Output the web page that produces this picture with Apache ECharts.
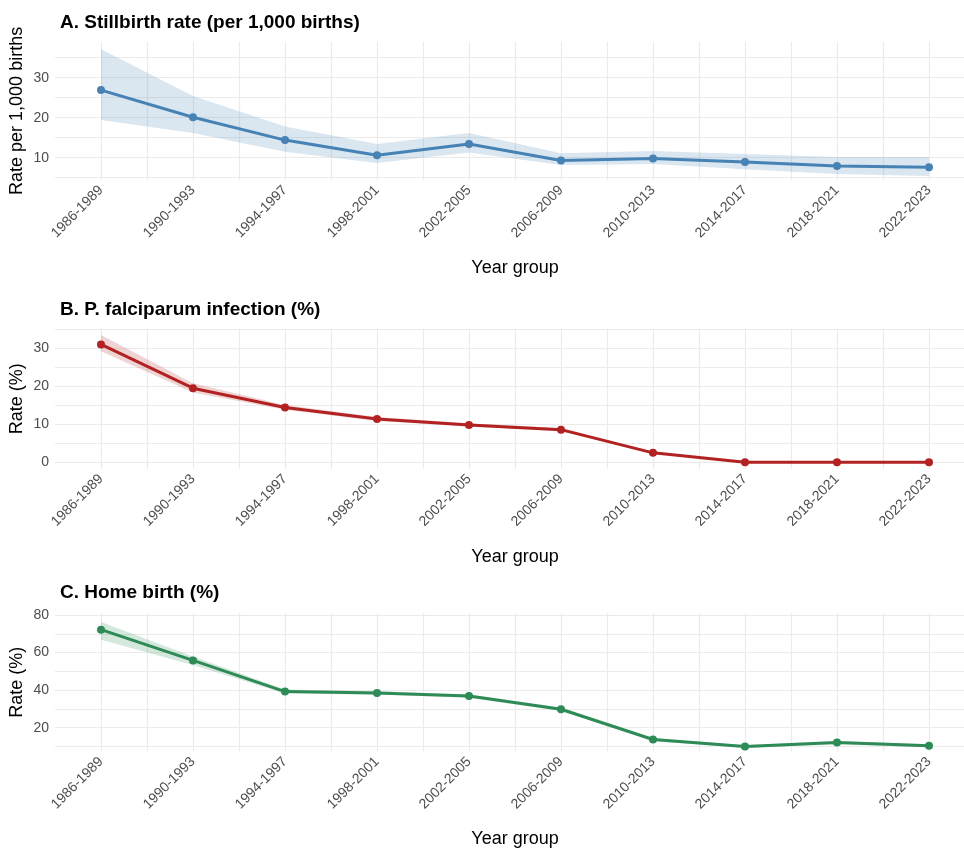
<!DOCTYPE html>
<html>
<head>
<meta charset="utf-8">
<title>Stillbirth, malaria and home birth trends</title>
<script src="https://cdn.jsdelivr.net/npm/echarts@6/dist/echarts.min.js"></script>
<style>
  html, body { margin: 0; padding: 0; background: #fff; }
  #chart { width: 964px; height: 850px; }
</style>
</head>
<body>
<div id="chart"></div>
<script>
var yearGroups = ['1986-1989', '1990-1993', '1994-1997', '1998-2001', '2002-2005',
                  '2006-2009', '2010-2013', '2014-2017', '2018-2021', '2022-2023'];

// A. stillbirth rate per 1,000 births (estimate, lower, upper)
var stillRate  = [26.9, 20.1, 14.4, 10.6, 13.4, 9.3, 9.8, 8.9, 7.9, 7.6];
var stillLower = [19.4, 16.2, 11.5, 8.7, 11.3, 8.2, 8.4, 7.1, 5.9, 5.4];
var stillUpper = [37.1, 25.4, 17.8, 13.4, 16.2, 11.1, 11.7, 10.9, 10.2, 10.2];

// B. P. falciparum infection (%)
var pfRate  = [31.0, 19.5, 14.4, 11.4, 9.8, 8.6, 2.5, 0.0, 0.0, 0.0];
var pfLower = [29.2, 18.4, 13.8, 10.9, 9.4, 8.2, 2.2, 0.0, 0.0, 0.0];
var pfUpper = [33.5, 20.8, 15.1, 11.9, 10.3, 9.0, 2.8, 0.1, 0.1, 0.1];

// C. Home birth (%)
var homeRate  = [72.2, 55.8, 39.2, 38.5, 36.8, 29.8, 13.7, 9.9, 12.1, 10.4];
var homeLower = [66.8, 53.4, 38.2, 37.6, 35.9, 28.9, 12.9, 9.2, 11.2, 9.6];
var homeUpper = [76.3, 57.9, 40.3, 39.4, 37.7, 30.7, 14.5, 10.6, 12.9, 11.2];

var FONT = 'Liberation Sans';
var GRID_LINE = '#ebebeb';

var panels = [
    { title: 'A. Stillbirth rate (per 1,000 births)', yName: 'Rate per 1,000 births',
      rate: stillRate, lower: stillLower, upper: stillUpper,
      color: '#4682b4', band: 'rgba(70,130,180,0.2)',
      top: 41.7, height: 138.4, min: 4.4, max: 39, step: 5, labelStep: 10, titleTop: 13 },
    { title: 'B. P. falciparum infection (%)', yName: 'Rate (%)',
      rate: pfRate, lower: pfLower, upper: pfUpper,
      color: '#b22222', band: 'rgba(178,34,34,0.2)',
      top: 328.5, height: 140.3, min: -1.7, max: 35.2, step: 5, labelStep: 10, titleTop: 300 },
    { title: 'C. Home birth (%)', yName: 'Rate (%)',
      rate: homeRate, lower: homeLower, upper: homeUpper,
      color: '#2e8b57', band: 'rgba(46,139,87,0.2)',
      top: 613.1, height: 138.4, min: 7.3, max: 81, step: 10, labelStep: 20, titleTop: 583 }
];

function pairs(arr) {
    return arr.map(function (v, i) { return [i, v]; });
}

// ribbon between lower and upper, drawn once through the axis scales
function bandRenderer(p) {
    return function (params, api) {
        if (params.dataIndex !== 0) return;
        var pts = [];
        for (var i = 0; i < p.lower.length; i++) pts.push(api.coord([i, p.lower[i]]));
        for (var j = p.upper.length - 1; j >= 0; j--) pts.push(api.coord([j, p.upper[j]]));
        return { type: 'polygon', shape: { points: pts }, style: { fill: p.band }, silent: true };
    };
}

var titles = [], grids = [], xAxes = [], yAxes = [], series = [];

panels.forEach(function (p, k) {
    titles.push({
        text: p.title, left: 60, top: p.titleTop, padding: 0,
        textStyle: { fontFamily: FONT, fontSize: 19, fontWeight: 'bold', color: '#000' }
    });
    grids.push({ left: 55, width: 920, top: p.top, height: p.height, outerBoundsMode: 'none' });
    xAxes.push({
        type: 'value', gridIndex: k, min: -0.5, max: 9.5, interval: 0.5,
        name: 'Year group', nameLocation: 'middle', nameGap: 79, nameMoveOverlap: false,
        nameTextStyle: { fontFamily: FONT, fontSize: 18, color: '#000' },
        axisLine: { show: false }, axisTick: { show: false },
        splitLine: { show: true, showMinLine: false, showMaxLine: false,
                     lineStyle: { color: GRID_LINE, width: 1.2 } },
        axisLabel: {
            rotate: 45, margin: 8, fontFamily: FONT, fontSize: 14, color: '#4d4d4d',
            hideOverlap: false, showMinLabel: false, showMaxLabel: false,
            formatter: function (v) {
                return Number.isInteger(v) ? yearGroups[v] : '';
            }
        }
    });
    yAxes.push({
        type: 'value', gridIndex: k, min: p.min, max: p.max,
        minInterval: p.step, maxInterval: p.step,
        name: p.yName, nameLocation: 'middle', nameGap: 29, nameRotate: 90,
        nameMoveOverlap: false,
        nameTextStyle: { fontFamily: FONT, fontSize: 18, color: '#000' },
        axisLine: { show: false }, axisTick: { show: false },
        splitLine: { show: true, showMinLine: false, showMaxLine: false,
                     lineStyle: { color: GRID_LINE, width: 1.2 } },
        axisLabel: {
            margin: 6, fontFamily: FONT, fontSize: 14, color: '#4d4d4d',
            showMinLabel: false, showMaxLabel: false,
            formatter: function (v) {
                return (Math.abs(v % p.labelStep) < 1e-6) ? String(v) : '';
            }
        }
    });
    series.push({
        type: 'custom', xAxisIndex: k, yAxisIndex: k,
        data: pairs(p.rate), renderItem: bandRenderer(p), silent: true, z: 1
    });
    series.push({
        type: 'line', xAxisIndex: k, yAxisIndex: k, data: pairs(p.rate),
        symbol: 'circle', symbolSize: 8, showAllSymbol: true,
        lineStyle: { color: p.color, width: 3 },
        itemStyle: { color: p.color }, z: 3
    });
});

var chart = echarts.init(document.getElementById('chart'), null, { renderer: 'canvas' });
chart.setOption({
    animation: false,
    backgroundColor: '#fff',
    title: titles,
    grid: grids,
    xAxis: xAxes,
    yAxis: yAxes,
    series: series
});
</script>
</body>
</html>
